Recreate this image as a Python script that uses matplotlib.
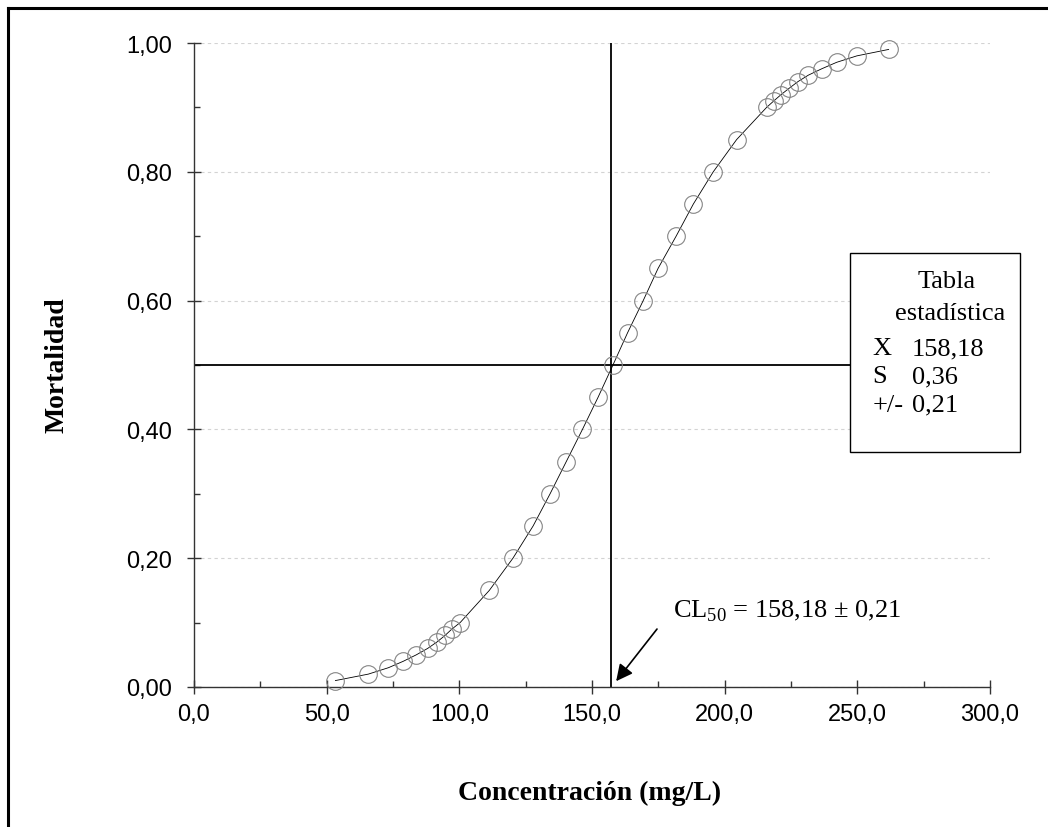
import numpy as np
import matplotlib
matplotlib.use('Agg')
import matplotlib.pyplot as plt
import matplotlib.ticker as mticker
from matplotlib.patches import Rectangle
from matplotlib.lines import Line2D

# datos
conc = [53.3, 65.7, 73.3, 78.9, 83.8, 88.1, 91.6, 94.6, 97.2, 100.3,
        111.3, 120.2, 127.8, 134.2, 140.3, 146.4, 152.3, 157.9, 163.4, 169.3,
        174.9, 181.7, 188.2, 195.7, 204.5,
        215.8, 218.5, 221.3, 224.4, 227.6, 231.5, 236.6, 242.2, 249.8, 261.8]
mort = [0.01, 0.02, 0.03, 0.04, 0.05, 0.06, 0.07, 0.08, 0.09, 0.10,
        0.15, 0.20, 0.25, 0.30, 0.35, 0.40, 0.45, 0.50, 0.55, 0.60,
        0.65, 0.70, 0.75, 0.80, 0.85,
        0.90, 0.91, 0.92, 0.93, 0.94, 0.95, 0.96, 0.97, 0.98, 0.99]
cl50 = 157.3
tabla_nombres = ['X', 'S', '+/-']
tabla_valores = ['158,18', '0,36', '0,21']

serif = 'Liberation Serif'
sans = 'Liberation Sans'

fig = plt.figure(figsize=(10.48, 8.28), dpi=100)
ax = fig.add_axes([194/1048, 1-688/828, 796/1048, 644/828])

ax.plot(conc, mort, color='black', lw=0.6, zorder=3)
ax.plot(conc, mort, 'o', ms=12.7, mfc='none', mec='#858585', mew=0.8,
        clip_on=False, zorder=4)

ax.plot([cl50, cl50], [0, 1], color='black', lw=1.3, zorder=2)
ax.plot([0, 300], [0.5, 0.5], color='black', lw=1.3, zorder=2)

ax.set_xlim(0, 300)
ax.set_ylim(0, 1)
ax.set_xticks(np.arange(0, 301, 50))
ax.set_yticks(np.arange(0, 1.01, 0.2))
ax.xaxis.set_minor_locator(mticker.MultipleLocator(25))
ax.yaxis.set_minor_locator(mticker.MultipleLocator(0.1))
ax.xaxis.set_major_formatter(mticker.FuncFormatter(lambda v, p: f'{v:.1f}'.replace('.', ',')))
ax.yaxis.set_major_formatter(mticker.FuncFormatter(lambda v, p: f'{v:.2f}'.replace('.', ',')))

ax.tick_params(which='major', direction='inout', length=9.5, width=1, color='#333333')
ax.tick_params(which='minor', direction='in', length=4.5, width=1, color='#333333')
ax.tick_params(axis='x', which='major', pad=7)
ax.tick_params(axis='y', which='major', pad=11)
for lab in ax.get_xticklabels() + ax.get_yticklabels():
    lab.set_fontfamily(sans)
    lab.set_fontsize(17)

for s in ['top', 'right']:
    ax.spines[s].set_visible(False)
for s in ['left', 'bottom']:
    ax.spines[s].set_color('#333333')
    ax.spines[s].set_linewidth(1)

ax.yaxis.grid(True, which='major', linestyle=(0, (3, 3)), color='#d3d3d3', lw=0.8)
ax.set_axisbelow(True)

fig.text(57/1048, 1-365/828, 'Mortalidad', rotation=90, ha='center', va='center',
         family=serif, fontweight='bold', fontsize=20)
fig.text(590/1048, 1-800/828, 'Concentración (mg/L)', ha='center', va='baseline',
         family=serif, fontweight='bold', fontsize=20)

# tabla estadistica
ax.add_patch(Rectangle((0.824, 0.365), 0.2137, 0.309, transform=ax.transAxes,
                       facecolor='white', edgecolor='black', lw=1,
                       clip_on=False, zorder=5))
ax.text(0.946, 0.621, 'Tabla', transform=ax.transAxes, ha='center', va='baseline',
        family=serif, fontsize=19, zorder=6)
ax.text(0.950, 0.5714, 'estadística', transform=ax.transAxes, ha='center', va='baseline',
        family=serif, fontsize=19, zorder=6)
filas_y = [0.517, 0.473, 0.429]
for nom, val, yy in zip(tabla_nombres, tabla_valores, filas_y):
    ax.text(0.852, yy, nom, transform=ax.transAxes, ha='left', va='baseline',
            family=serif, fontsize=19, zorder=6)
    ax.text(0.902, yy, val, transform=ax.transAxes, ha='left', va='baseline',
            family=serif, fontsize=19, zorder=6)

# anotacion CL50
ax.annotate('', xy=(159.1, 0.009), xytext=(174.5, 0.090),
            arrowprops=dict(arrowstyle='-|>', color='black', lw=1.2,
                            mutation_scale=25, shrinkA=0, shrinkB=0))
ax.text(180.5, 0.110, r'CL$_{\mathregular{50}}$ = 158,18 ± 0,21', ha='left',
        va='baseline', family=serif, fontsize=19)

# marco
fig.add_artist(Line2D([8/1048, 8/1048], [0, 1-9/828], color='black', lw=2.2))
fig.add_artist(Line2D([8/1048, 1], [1-9/828, 1-9/828], color='black', lw=2.2))

plt.savefig('out.png', dpi=100)
